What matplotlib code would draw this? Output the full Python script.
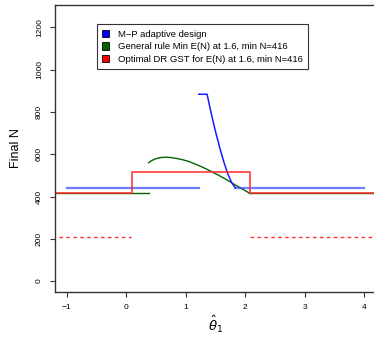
import matplotlib
matplotlib.use("Agg")
import matplotlib.pyplot as plt
from matplotlib.patches import Patch

plt.rcParams['font.family'] = ['Liberation Sans', 'DejaVu Sans']

# M-P adaptive design (blue)
mp_left_x = [-1.0, 1.22]
mp_left_y = [442, 442]
mp_curve_x = [1.22, 1.36, 1.428, 1.501, 1.568, 1.641, 1.708, 1.776, 1.833]
mp_curve_y = [884, 884, 795, 708, 636, 564, 507, 464, 442]
mp_right_x = [1.833, 4.0]
mp_right_y = [442, 442]

# General rule (green)
gr_left_x = [-1.25, 0.376]
gr_left_y = [416, 416]
gr_curve_x = [0.376, 0.42, 0.48, 0.54, 0.6, 0.68, 0.76, 0.85, 0.95, 1.05,
              1.15, 1.25, 1.35, 1.455, 1.55, 1.65, 1.75, 1.85, 1.95, 2.06]
gr_curve_y = [560, 569, 577, 582, 585, 586, 584, 580, 574, 566,
              555, 543, 530, 515, 501, 486, 469, 452, 436, 418]
gr_right_x = [2.06, 4.3]
gr_right_y = [416, 416]

# Optimal DR GST (red)
dr_x = [-1.25, 0.1, 0.1, 2.08, 2.08, 4.3]
dr_y = [416, 416, 516, 516, 416, 416]
dr_dash_left_x = [-1.25, 0.08]
dr_dash_right_x = [2.08, 4.3]
dr_dash_y = [208, 208]

legend_labels = ["M\u2212P adaptive design",
                 "General rule Min E(N) at 1.6, min N=416",
                 "Optimal DR GST for E(N) at 1.6, min N=416"]
legend_colors = ["#0000ff", "#006400", "#ff0000"]

fig = plt.figure(figsize=(3.74, 3.37), dpi=100)
ax = fig.add_axes([0.147, 0.1335, 0.858, 0.852])

ax.plot(gr_left_x, gr_left_y, color="#006400", lw=1.0)
ax.plot(gr_curve_x, gr_curve_y, color="#006400", lw=1.0)
ax.plot(gr_right_x, gr_right_y, color="#006400", lw=1.0)

ax.plot(mp_left_x, mp_left_y, color="#3344ff", lw=1.6, alpha=0.7)
ax.plot(mp_curve_x, mp_curve_y, color="#1a1aff", lw=1.1)
ax.plot(mp_right_x, mp_right_y, color="#3344ff", lw=1.6, alpha=0.7)

ax.plot(dr_x, dr_y, color="#ff2a2a", lw=1.3, alpha=0.85)
ax.plot(dr_dash_left_x, dr_dash_y, color="#ff2a2a", lw=1.0, ls=(0, (2.5, 2.5)))
ax.plot(dr_dash_right_x, dr_dash_y, color="#ff2a2a", lw=1.0, ls=(0, (2.5, 2.5)))

ax.set_xlim(-1.2, 4.2)
ax.set_ylim(-52, 1307)
ax.set_xticks([-1, 0, 1, 2, 3, 4])
ax.set_xticklabels(["\u22121", "0", "1", "2", "3", "4"])
ax.set_yticks([0, 200, 400, 600, 800, 1000, 1200])
ax.set_yticklabels(["0", "200", "400", "600", "800", "1000", "1200"],
                   rotation=90, va="center")
ax.tick_params(labelsize=6, length=3.6, width=0.8, color="#333333", pad=5)

for s in ax.spines.values():
    s.set_linewidth(1.0)
    s.set_color("#333333")
ax.spines['right'].set_visible(False)

ax.set_ylabel("Final N", fontsize=9, labelpad=10)
ax.set_xlabel(r"$\hat{\theta}_1$", fontsize=9.5, labelpad=2)

handles = [Patch(facecolor=c, edgecolor="black", lw=0.6) for c in legend_colors]
leg = ax.legend(handles, legend_labels, loc="upper left",
                bbox_to_anchor=(0.13, 0.932), fontsize=6.8, frameon=True,
                fancybox=False, handlelength=0.8, handleheight=0.8,
                handletextpad=0.9, labelspacing=0.4, borderpad=0.55,
                borderaxespad=0)
leg.get_frame().set_edgecolor("black")
leg.get_frame().set_linewidth(0.8)

fig.savefig("out.png", dpi=100)
